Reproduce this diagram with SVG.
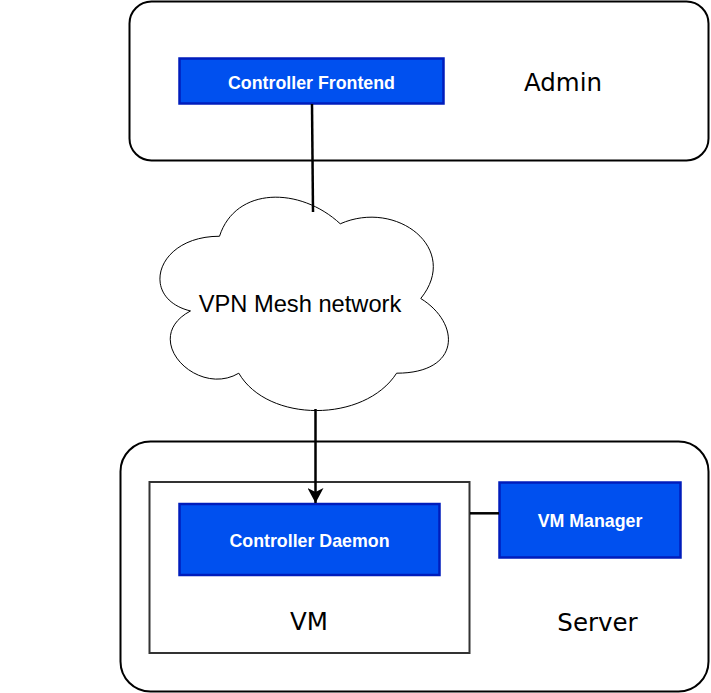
<svg xmlns="http://www.w3.org/2000/svg" width="711" height="693" viewBox="0 0 711 693">
<style>
.group{fill:#fff;stroke:#000;stroke-width:2}
.blue{fill:#0050ef;stroke:#001dbc;stroke-width:2.5}
.btxt{font-family:"Liberation Sans",Arial,sans-serif;font-weight:bold;font-size:17.8px;fill:#fff;text-anchor:middle}
.lbl{font-family:"DejaVu Sans",sans-serif;font-size:24.5px;fill:#000;text-anchor:middle}
.conn{stroke:#000;stroke-width:2.5;fill:none}
</style>
<defs>
<marker id="arr" markerWidth="16" markerHeight="16" refX="15" refY="8" orient="auto" markerUnits="userSpaceOnUse">
<path d="M0,0 L15,8 L0,16 L4,8 Z" fill="#000"/>
</marker>
</defs>
<rect x="0" y="0" width="711" height="693" fill="#fff"/>
<g id="admin">
<rect class="group" x="129.5" y="1.5" width="579" height="159" rx="22"/>
<text class="lbl" x="563" y="90.5">Admin</text>
</g>
<g id="server">
<rect class="group" x="120.5" y="441.5" width="588" height="250" rx="30"/>
<text class="lbl" x="597.5" y="630.5">Server</text>
</g>
<g id="vm">
<rect x="149.5" y="482" width="320" height="171" fill="#fff" stroke="#333" stroke-width="2"/>
<text class="lbl" x="309" y="629.5">VM</text>
</g>
<g id="controller-frontend">
<rect class="blue" x="179.5" y="58.5" width="264" height="45"/>
<text class="btxt" x="311.5" y="88.5">Controller Frontend</text>
</g>
<g id="vpn-cloud">
<path d="M219.5,236.25 C155.1,236.25 139,298.5 190.5,310.95 C139,338.3 197,398.1 238.8,373.2 C267.8,423 364.4,423 396.6,373.2 C461,373.2 461,323.4 420.75,298.5 C461,248.7 396.6,198.9 340.25,223.8 C300,186.45 235.6,186.45 219.5,236.25 Z" fill="#fff" stroke="#000" stroke-width="1"/>
<text x="300" y="311.5" font-family="'Liberation Sans',Arial,sans-serif" font-size="23.7" text-anchor="middle" fill="#000">VPN Mesh network</text>
</g>
<g id="controller-daemon">
<rect class="blue" x="179.5" y="504" width="260" height="71"/>
<text class="btxt" x="309.5" y="547">Controller Daemon</text>
</g>
<g id="vm-manager">
<rect class="blue" x="499.5" y="482.5" width="181" height="75"/>
<text class="btxt" x="590" y="527">VM Manager</text>
</g>
<g id="connectors">
<line class="conn" x1="312" y1="104" x2="313" y2="212"/>
<line class="conn" x1="315.5" y1="409" x2="315.5" y2="503" marker-end="url(#arr)"/>
<line class="conn" x1="470" y1="513.3" x2="499" y2="513.3"/>
</g>
</svg>
